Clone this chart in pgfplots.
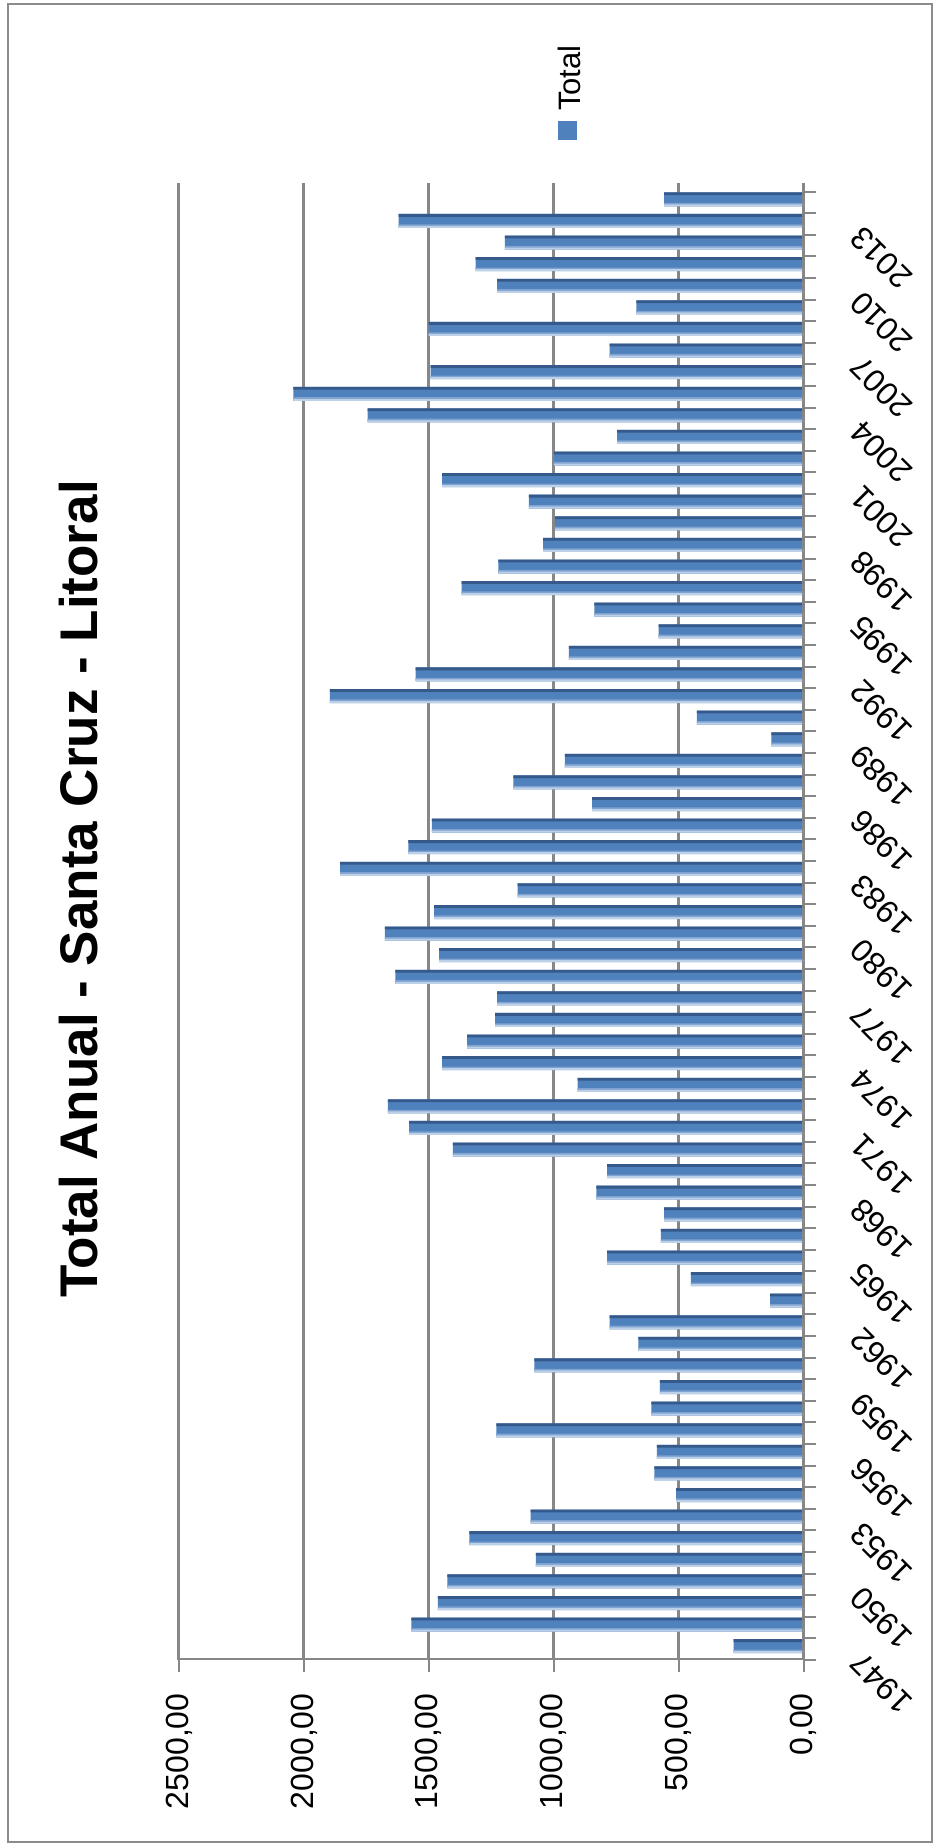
\documentclass[border=0pt]{standalone}
\usepackage{fontspec}
\setmainfont{Liberation Sans}
\usepackage{graphicx}
\usepackage{pgfplots}
\pgfplotsset{compat=1.18}

\definecolor{barblue}{HTML}{4F81BD}
\definecolor{bardark}{HTML}{34598A}
\definecolor{barmid}{HTML}{7FA2D0}
\definecolor{barlight}{HTML}{BCD0E8}
\definecolor{gridgray}{HTML}{878787}
\definecolor{framegray}{HTML}{8C8C8C}

\pgfplotstableread{
year value
1947 280
1948 1570
1949 1464
1950 1426
1951 1072
1952 1338
1953 1093
1954 510
1955 597
1956 587
1957 1230
1958 609
1959 575
1960 1078
1961 661
1962 776
1963 134
1964 451
1965 786
1966 571
1967 558
1968 829
1969 786
1970 1404
1971 1579
1972 1664
1973 904
1974 1447
1975 1347
1976 1235
1977 1227
1978 1634
1979 1459
1980 1676
1981 1479
1982 1145
1983 1855
1984 1582
1985 1488
1986 846
1987 1162
1988 956
1989 129
1990 427
1991 1896
1992 1553
1993 940
1994 580
1995 837
1996 1369
1997 1222
1998 1043
1999 995
2000 1100
2001 1447
2002 1000
2003 746
2004 1745
2005 2042
2006 1493
2007 776
2008 1501
2009 669
2010 1227
2011 1313
2012 1196
2013 1621
2014 558
}\totaltable

\begin{document}
\begin{tikzpicture}
\useasboundingbox (0,0) rectangle (468pt,922.5pt);
\draw[framegray, line width=1pt] (4pt,1.5pt) rectangle (466pt,920.5pt);

\begin{axis}[
  at={(245.65pt,461.75pt)}, anchor=center,
  scale only axis, width=312.3pt, height=738.5pt,
  x dir=reverse,
  xmin=0, xmax=2500, ymin=1946.5, ymax=2014.9,
  axis line style={draw=none},
  xmajorgrids=true,
  major x grid style={gridgray, line width=1.5pt},
  tick align=outside,
  major tick length=6pt,
  minor tick length=6pt,
  tick style={gridgray, line width=1pt},
  xtick={0,500,...,2500},
  scaled x ticks=false,
  xticklabel={\pgfmathprintnumber[fixed,fixed zerofill,precision=2,use comma,1000 sep={},assume math mode=true]{\tick}},
  xtick pos=left,
  xticklabel style={yshift=-10.5pt, rotate=90, anchor=east, inner sep=0pt,
    font=\fontsize{16}{19}\selectfont},
  % labelled years every third category; unlabelled ticks between categories
  ytick={1947,1950,...,2013},
  yticklabels={1947,1950,1953,1956,1959,1962,1965,1968,1971,1974,1977,1980,1983,1986,1989,1992,1995,1998,2001,2004,2007,2010,2013},
  major y tick style={draw=none},
  minor ytick={1946.5,1947.5,...,2014.5},
  minor y tick style={gridgray, line width=1pt},
  ytick pos=right,
  yticklabel pos=right,
  yticklabel style={xshift=24.2pt, rotate=135, anchor=south east, inner sep=0pt,
    font=\fontsize{16}{19}\selectfont},
  legend style={at={(axis description cs:0.6068,1.0934)}, anchor=north west,
    draw=none, fill=none, inner sep=0pt, nodes={inner sep=0pt},
    font=\fontsize{15.5}{18}\selectfont},
  every axis plot/.append style={xbar, draw=none, forget plot},
]
% bar body
\addplot[fill=barblue, bar width=7pt, bar shift=1.5pt]
  table[x=value, y=year] {\totaltable};
% dark upper edge of each bar
\addplot[fill=bardark, bar width=1.4pt, bar shift=4.3pt]
  table[x=value, y=year] {\totaltable};
% lighter underside of each bar
\addplot[fill=barmid, bar width=1.2pt, bar shift=-0.8pt]
  table[x=value, y=year] {\totaltable};
\addplot[fill=barlight, bar width=1.0pt, bar shift=-1.5pt]
  table[x=value, y=year] {\totaltable};
\addlegendimage{empty legend}
\addlegendentry{\vbox{\offinterlineskip\hbox{\rotatebox{90}{Total}}\kern5pt\hbox{\textcolor{barblue}{\rule{9.5pt}{9.5pt}}}}}
% floor and category axis lines
\draw[gridgray, line width=2pt] (axis cs:2500,1946.5) -- (axis cs:0,1946.5) -- (axis cs:0,2014.7);
\end{axis}

\node[rotate=90, anchor=base, font=\bfseries\fontsize{26.5}{32}\selectfont]
  at (48.5pt,478pt) {Total Anual - Santa Cruz - Litoral};
\end{tikzpicture}
\end{document}
